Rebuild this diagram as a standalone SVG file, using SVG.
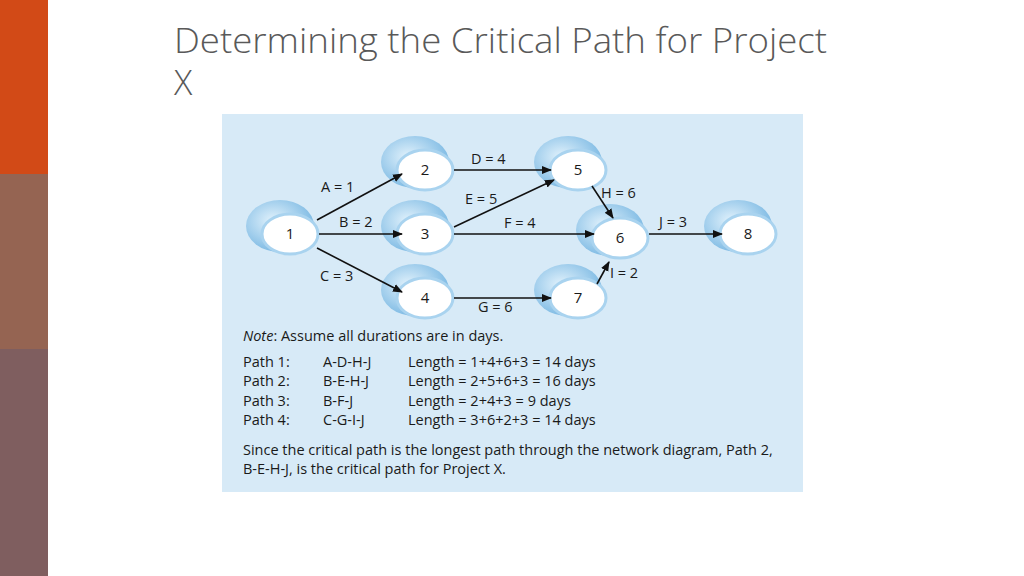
<svg xmlns="http://www.w3.org/2000/svg" width="1024" height="576" viewBox="0 0 1024 576">
<defs>
<style>
.t{font-family:"Open Sans","Liberation Sans",sans-serif;font-size:14.5px;fill:#1a1a1a}
.n{font-family:"Open Sans","Liberation Sans",sans-serif;font-size:15px;fill:#1a1a1a;text-anchor:middle}
.sh{fill:url(#g)}
.wh{fill:#fff;stroke:#a9d3ef;stroke-width:3}
.e{stroke:#111;stroke-width:1.6;fill:none;marker-end:url(#a)}
.h{font-family:'Open Sans','Liberation Sans',sans-serif;font-size:34px;font-weight:300;fill:#595959}
</style>
<marker id="a" viewBox="0 0 10 10" refX="9" refY="5" markerWidth="10" markerHeight="10" markerUnits="userSpaceOnUse" orient="auto"><path d="M0,1 L10,5 L0,9 Z" fill="#111"/></marker>
<radialGradient id="g" cx="0.4" cy="0.4" r="0.7"><stop offset="0" stop-color="#e2f2fc"/><stop offset="1" stop-color="#6fb2e0"/></radialGradient>
</defs>
<rect width="1024" height="576" fill="#fff"/>
<rect x="0" y="0" width="48" height="174" fill="#d24a17"/>
<rect x="0" y="174" width="48" height="175" fill="#956452"/>
<rect x="0" y="349" width="48" height="227" fill="#7f5e5f"/>
<text class="h" x="174" y="53" textLength="653" lengthAdjust="spacingAndGlyphs">Determining the Critical Path for Project</text>
<text class="h" x="174" y="95">X</text>
<rect x="222" y="114" width="581" height="378" fill="#d7eaf7"/>
<g id="n1"><ellipse class="sh" cx="280" cy="226" rx="34" ry="26"/><ellipse class="wh" cx="290" cy="234" rx="28" ry="20"/><text class="n" x="290" y="239">1</text></g>
<g id="n2"><ellipse class="sh" cx="415" cy="162" rx="34" ry="26"/><ellipse class="wh" cx="425" cy="170" rx="28" ry="20"/><text class="n" x="425" y="175">2</text></g>
<g id="n3"><ellipse class="sh" cx="415" cy="226" rx="34" ry="26"/><ellipse class="wh" cx="425" cy="234" rx="28" ry="20"/><text class="n" x="425" y="239">3</text></g>
<g id="n4"><ellipse class="sh" cx="415" cy="290" rx="34" ry="26"/><ellipse class="wh" cx="425" cy="298" rx="28" ry="20"/><text class="n" x="425" y="303">4</text></g>
<g id="n5"><ellipse class="sh" cx="568" cy="162" rx="34" ry="26"/><ellipse class="wh" cx="578" cy="170" rx="28" ry="20"/><text class="n" x="578" y="175">5</text></g>
<g id="n6"><ellipse class="sh" cx="610" cy="230" rx="34" ry="26"/><ellipse class="wh" cx="620" cy="238" rx="28" ry="20"/><text class="n" x="620" y="243">6</text></g>
<g id="n7"><ellipse class="sh" cx="568" cy="290" rx="34" ry="26"/><ellipse class="wh" cx="578" cy="298" rx="28" ry="20"/><text class="n" x="578" y="303">7</text></g>
<g id="n8"><ellipse class="sh" cx="738" cy="226" rx="34" ry="26"/><ellipse class="wh" cx="748" cy="234" rx="28" ry="20"/><text class="n" x="748" y="239">8</text></g>
<g id="connectors">
<line class="e" x1="317" y1="220" x2="402" y2="174"/>
<line class="e" x1="319" y1="234" x2="402" y2="234"/>
<line class="e" x1="317" y1="248" x2="402" y2="292"/>
<line class="e" x1="454" y1="170" x2="551" y2="170"/>
<line class="e" x1="454" y1="227" x2="554" y2="180"/>
<line class="e" x1="454" y1="234" x2="594" y2="234"/>
<line class="e" x1="454" y1="298" x2="551" y2="298"/>
<line class="e" x1="592" y1="186" x2="613" y2="218"/>
<line class="e" x1="597" y1="284" x2="609" y2="262"/>
<line class="e" x1="649" y1="234" x2="722" y2="234"/>
</g>
<g class="t">
<text x="321" y="192">A = 1</text>
<text x="339" y="227">B = 2</text>
<text x="320" y="281">C = 3</text>
<text x="471" y="164">D = 4</text>
<text x="465" y="204">E = 5</text>
<text x="504" y="228">F = 4</text>
<text x="478" y="312">G = 6</text>
<text x="601" y="198">H = 6</text>
<text x="659" y="227">J = 3</text>
<text x="610" y="278">I = 2</text>
</g>
<g class="t">
<text x="243" y="341"><tspan font-style="italic">Note</tspan>:   Assume all durations are in days.</text>
<text x="243" y="367">Path 1:</text><text x="323" y="367">A-D-H-J</text><text x="408" y="367">Length = 1+4+6+3 = 14 days</text>
<text x="243" y="386">Path 2:</text><text x="323" y="386">B-E-H-J</text><text x="408" y="386">Length = 2+5+6+3 = 16 days</text>
<text x="243" y="406">Path 3:</text><text x="323" y="406">B-F-J</text><text x="408" y="406">Length = 2+4+3 = 9 days</text>
<text x="243" y="425">Path 4:</text><text x="323" y="425">C-G-I-J</text><text x="408" y="425">Length = 3+6+2+3 = 14 days</text>
<text x="243" y="455">Since the critical path is the longest path through the network diagram, Path 2,</text>
<text x="243" y="474">B-E-H-J, is the critical path for Project X.</text>
</g>
</svg>
